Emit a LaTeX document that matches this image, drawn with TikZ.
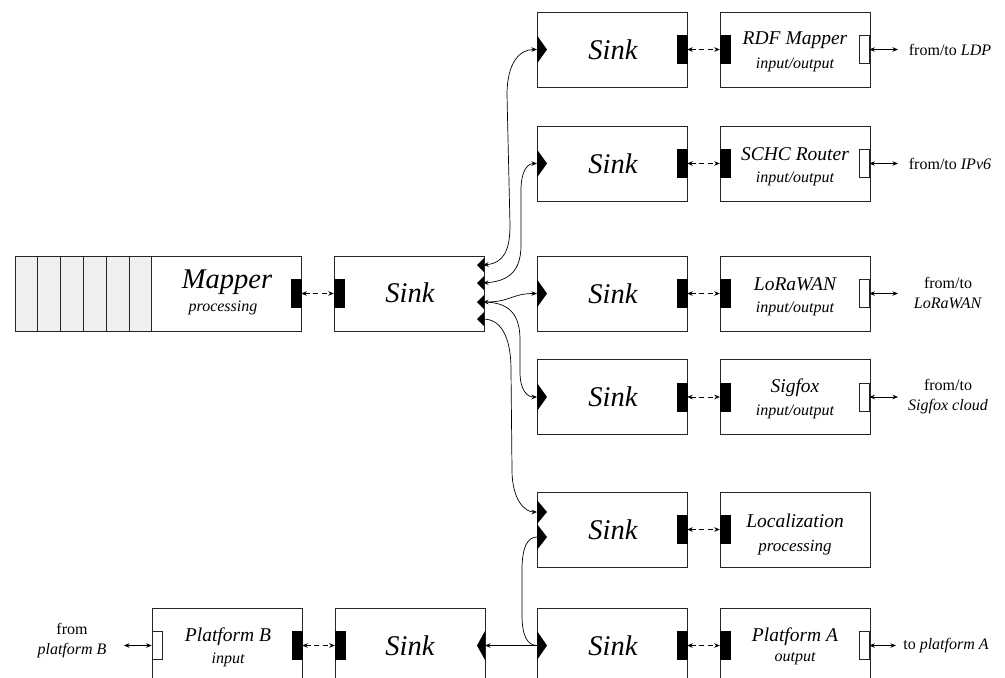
\documentclass[tikz,border=0pt]{standalone}
\usepackage{fontspec}
\setmainfont{Liberation Serif}
\usetikzlibrary{arrows.meta}
\begin{document}
\begin{tikzpicture}[x=1pt,y=-1pt,
 box/.style={draw=black!85,line width=0.9pt,fill=white,minimum width=150pt,minimum height=75pt,inner sep=0pt},
 bport/.style={fill=black,draw=black,line width=0.4pt,minimum width=10pt,minimum height=28pt,inner sep=0pt},
 wport/.style={fill=white,draw=black!85,line width=0.8pt,minimum width=10pt,minimum height=28pt,inner sep=0pt},
 tri/.style={fill=black},
 cell/.style={draw=black!85,line width=0.9pt,fill=black!6},
 conn/.style={line width=0.7pt,>={Stealth[length=5.5pt,width=4.5pt]}},
 dconn/.style={conn,dash pattern=on 5pt off 3.5pt},
 big/.style={inner sep=0pt,font=\fontsize{28.5}{30}\selectfont\itshape},
 ttl/.style={inner sep=0pt,font=\fontsize{19.5}{21}\selectfont\itshape},
 sub/.style={inner sep=0pt,font=\fontsize{16}{18}\selectfont\itshape},
 lab/.style={inner sep=0pt,font=\fontsize{16}{20}\selectfont,align=center},
]
\path[use as bounding box,clip] (0,0) rectangle (1005,678);

% ---------- Mapper ----------
\node[box,minimum width=286pt] (mapper) at (158,293.5) {};
\foreach \i in {0,...,5}
  \draw[cell] ({15+22.8*\i},256) rectangle ({15+22.8*(\i+1)},331);
\node[big] (tmapper) at (227,282) {Mapper};
\node[sub] (smapper) at (223,308) {processing};
\node[bport] (mapo) at (296,293.5) {};

% ---------- central Sink ----------
\node[box] (cs) at (409,293.5) {};
\node[big] (tcs) at (410,293) {Sink};
\node[bport] (csi) at (339,293.5) {};
\foreach \c/\n in {265/c1,283/c2,302/c3,319/c4}{
  \fill[tri] (484,\c-7) -- (477,\c) -- (484,\c+7) -- cycle;
  \coordinate (\n) at (483,\c);
}
\draw[dconn,<->] (mapo.east) -- (csi.west);

% ---------- right column rows ----------
\foreach \r/\c/\t/\s in {1/49.5/RDF Mapper/input\slash output,
                          2/163.5/SCHC Router/input\slash output,
                          3/293.5/LoRaWAN/input\slash output,
                          4/397/Sigfox/input\slash output}{
  \node[box] (sink\r) at (612,\c) {};
  \node[big] (tsink\r) at (613,\c) {Sink};
  \fill[tri] (537,\c-14) -- (547,\c) -- (537,\c+14) -- cycle;
  \coordinate (si\r) at (537,\c);
  \node[bport] (so\r) at (682,\c) {};
  \node[box] (io\r) at (795,\c) {};
  \node[ttl] (tio\r) at (795,\c-9) {\t};
  \node[sub] (sio\r) at (795,\c+15) {\s};
  \node[bport] (ioi\r) at (725,\c) {};
  \node[wport] (ioo\r) at (864,\c) {};
  \coordinate (ext\r) at (898,\c);
  \draw[dconn,<->] (so\r.east) -- (ioi\r.west);
  \draw[conn,<->] (ioo\r.east) -- (ext\r);
}
\node[lab] (l1) at (950,49.5) {from/to \textit{LDP}};
\node[lab] (l2) at (950,163.5) {from/to \textit{IPv6}};
\node[lab] (l3) at (948,293) {from/to\\\textit{LoRaWAN}};
\node[lab] (l4) at (948,397) {from/to\\\textit{Sigfox cloud}};

% ---------- Localization row ----------
\node[box] (sink5) at (612,529.5) {};
\node[big] (tsink5) at (613,529.5) {Sink};
\fill[tri] (537,500) -- (547,512) -- (537,524) -- (547,537) -- (537,550) -- cycle;
\coordinate (si5a) at (537,512);
\coordinate (si5b) at (537,537);
\node[bport] (so5) at (682,529.5) {};
\node[box] (loc) at (795,529.5) {};
\node[ttl] (tloc) at (795,521) {Localization};
\node[font=\fontsize{17}{18}\selectfont\itshape,inner sep=0pt] (sloc) at (795,548) {processing};
\node[bport] (loci) at (725,529.5) {};
\draw[dconn,<->] (so5.east) -- (loci.west);

% ---------- bottom row ----------
\node[box] (sink6) at (612,645.5) {};
\node[big] (tsink6) at (613,645.5) {Sink};
\fill[tri] (537,631) -- (547,645.5) -- (537,660) -- cycle;
\coordinate (si6) at (537,645.5);
\node[bport] (so6) at (682,645.5) {};
\node[box] (pa) at (795,645.5) {};
\node[ttl] (tpa) at (795,637) {Platform A};
\node[sub] (spa) at (795,659) {output};
\node[bport] (pai) at (725,645.5) {};
\node[wport] (pao) at (864,645.5) {};
\coordinate (pax) at (896,645.5);
\draw[dconn,<->] (so6.east) -- (pai.west);
\draw[conn,<->] (pao.east) -- (pax);
\node[lab] (lpa) at (946,646) {to \textit{platform A}};

\node[box] (bs) at (410,645.5) {};
\node[big] (tbs) at (410,645.5) {Sink};
\node[bport] (bsi) at (340,645.5) {};
\fill[tri] (485,631) -- (477,645.5) -- (485,660) -- cycle;
\coordinate (bso) at (485,645.5);

\node[box] (pb) at (227,645.5) {};
\node[ttl] (tpb) at (228,637) {Platform B};
\node[sub] (spb) at (228,660) {input};
\node[wport] (pbi) at (157,645.5) {};
\node[bport] (pbo) at (297,645.5) {};
\coordinate (pbx) at (124,645.5);
\draw[conn,<->] (pbx) -- (pbi.west);
\draw[dconn,<->] (pbo.east) -- (bsi.west);
\node[lab] (lpb) at (72,641) {from\\\textit{platform B}};

% ---------- curved connectors ----------
\draw[conn,<->] (c1) .. controls (504,263) and (510,250) .. (510,225)
   -- (507,95) .. controls (507,62) and (520,49.5) .. (si1);
\draw[conn,<->] (c2) .. controls (510,281) and (521,270) .. (521,245)
   -- (521,190) .. controls (521,172) and (527,163.5) .. (si2);
\draw[conn,<->] (c3) .. controls (510,302) and (512,293.5) .. (si3);
\draw[conn,->] (c3) .. controls (510,302) and (520,315) .. (520,340)
   -- (520,372) .. controls (520,390) and (527,397) .. (si4);
\draw[conn,->] (c4) .. controls (500,319) and (511,335) .. (511,370)
   -- (512,470) .. controls (512,500) and (525,512) .. (si5a);
\draw[conn] (si5b) .. controls (527,537) and (522,548) .. (522,570)
   -- (522,615) .. controls (522,637) and (528,645.5) .. (si6);
\draw[conn,->] (si6) -- (bso);
\end{tikzpicture}
\end{document}
